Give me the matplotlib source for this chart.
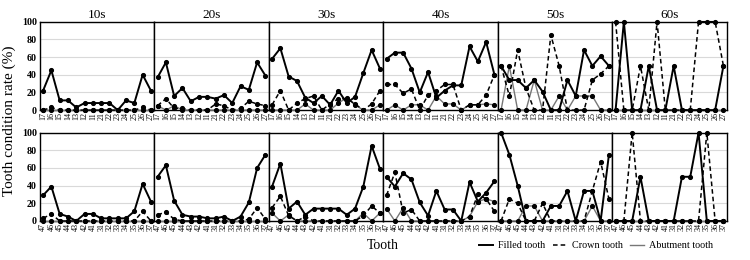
import matplotlib
matplotlib.use('Agg')
import matplotlib.pyplot as plt
from matplotlib.lines import Line2D

plt.rcParams['font.family'] = ['Liberation Serif', 'DejaVu Serif']

ages = ['10s', '20s', '30s', '40s', '50s', '60s']
upper_teeth = ['17', '16', '15', '14', '13', '12', '11',
               '21', '22', '23', '24', '25', '26', '27']
lower_teeth = ['47', '46', '45', '44', '43', '42', '41',
               '31', '32', '33', '34', '35', '36', '37']

# tooth condition rate (%) per age group, upper jaw
filled_upper = [
    [22, 45, 11, 11, 3, 8, 8, 8, 8, 0, 11, 8, 40, 22],
    [37, 54, 16, 25, 10, 15, 15, 13, 17, 8, 27, 23, 54, 39],
    [58, 70, 38, 33, 14, 8, 16, 6, 22, 8, 15, 42, 68, 47],
    [58, 65, 65, 47, 20, 43, 14, 22, 28, 28, 72, 55, 77, 40],
    [50, 34, 34, 25, 34, 21, 0, 0, 34, 16, 68, 50, 61, 50],
    [0, 100, 0, 0, 50, 0, 0, 50, 0, 0, 0, 0, 0, 50],
]
crown_upper = [
    [0, 3, 0, 0, 0, 0, 0, 0, 0, 0, 0, 0, 3, 0],
    [5, 13, 2, 2, 0, 0, 0, 7, 5, 0, 2, 10, 7, 5],
    [6, 22, 0, 8, 13, 16, 0, 7, 13, 13, 7, 0, 7, 22],
    [29, 29, 19, 24, 0, 17, 22, 29, 29, 0, 6, 6, 17, 40],
    [50, 16, 68, 25, 0, 0, 85, 50, 0, 0, 0, 34, 41, 50],
    [100, 0, 0, 50, 0, 100, 0, 0, 0, 0, 100, 100, 100, 50],
]
abutment_upper = [
    [0, 0, 0, 0, 0, 0, 0, 0, 0, 0, 0, 0, 0, 0],
    [5, 0, 5, 0, 0, 0, 0, 0, 0, 0, 0, 0, 0, 0],
    [0, 0, 0, 0, 7, 0, 0, 0, 8, 14, 6, 0, 0, 6],
    [0, 6, 0, 6, 6, 0, 16, 7, 7, 0, 6, 6, 7, 6],
    [0, 50, 0, 0, 34, 0, 0, 16, 0, 16, 16, 16, 0, 0],
    [0, 0, 0, 0, 0, 0, 0, 0, 0, 0, 0, 0, 0, 0],
]

# lower jaw
filled_lower = [
    [29, 39, 8, 5, 0, 8, 8, 3, 3, 3, 3, 11, 42, 22],
    [50, 63, 23, 7, 5, 5, 3, 3, 5, 0, 5, 21, 60, 75],
    [39, 65, 14, 22, 7, 14, 14, 14, 14, 7, 14, 39, 85, 59],
    [50, 39, 54, 47, 21, 6, 34, 13, 13, 0, 44, 22, 32, 45],
    [100, 75, 40, 0, 0, 0, 17, 17, 34, 0, 34, 34, 0, 75],
    [0, 0, 0, 50, 0, 0, 0, 0, 50, 50, 100, 0, 0, 0],
]
crown_lower = [
    [3, 8, 0, 0, 0, 0, 0, 0, 0, 0, 0, 0, 11, 0],
    [7, 10, 2, 0, 0, 0, 0, 0, 0, 0, 0, 2, 15, 2],
    [15, 28, 6, 0, 5, 0, 0, 0, 0, 0, 0, 6, 17, 9],
    [29, 55, 9, 13, 0, 0, 0, 0, 0, 0, 5, 30, 25, 11],
    [0, 25, 20, 0, 0, 20, 0, 0, 0, 0, 0, 34, 67, 25],
    [0, 0, 100, 0, 0, 0, 0, 0, 0, 0, 0, 100, 0, 0],
]
abutment_lower = [
    [0, 0, 0, 0, 0, 0, 0, 0, 0, 0, 0, 0, 0, 0],
    [0, 0, 0, 0, 0, 0, 0, 0, 0, 0, 0, 0, 0, 0],
    [9, 0, 7, 0, 0, 0, 0, 0, 0, 0, 0, 9, 0, 9],
    [14, 0, 15, 0, 0, 0, 0, 0, 0, 0, 5, 22, 25, 22],
    [0, 0, 0, 17, 17, 0, 0, 0, 0, 0, 0, 17, 0, 0],
    [0, 0, 0, 0, 0, 0, 0, 0, 0, 0, 0, 0, 0, 0],
]

fig, axes = plt.subplots(2, 6, figsize=(7.5, 2.6), dpi=100, sharey=True)
fig.subplots_adjust(left=0.053, right=0.969, top=0.9165, bottom=0.15,
                    wspace=0, hspace=0.254)

rows = [
    (upper_teeth, filled_upper, crown_upper, abutment_upper),
    (lower_teeth, filled_lower, crown_lower, abutment_lower),
]

mk = dict(marker='o', markersize=2.7, markerfacecolor='black',
          markeredgecolor='black', clip_on=False)

for r, (teeth, filled, crown, abut) in enumerate(rows):
    x = list(range(len(teeth)))
    for c, age in enumerate(ages):
        ax = axes[r, c]
        ax.plot(x, abut[c], color='#777777', linewidth=1.0, zorder=3, **mk)
        ax.plot(x, crown[c], color='black', linewidth=1.1,
                linestyle=(0, (3, 2)), zorder=4, **mk)
        ax.plot(x, filled[c], color='black', linewidth=1.4, zorder=5, **mk)

        ax.set_xlim(-0.4, len(teeth) - 0.6)
        ax.set_ylim(0, 100)
        ax.set_yticks([0, 20, 40, 60, 80, 100])
        ax.yaxis.grid(True, color='#d9d9d9', linewidth=0.8)
        ax.set_axisbelow(True)
        ax.set_xticks(x)
        ax.set_xticklabels(teeth, rotation=90, fontsize=5.8)
        ax.tick_params(axis='x', length=0, pad=1.5)
        ax.tick_params(axis='y', length=0, pad=2, labelsize=7.2)
        for lbl in ax.get_yticklabels():
            lbl.set_fontweight('bold')
        for sp in ax.spines.values():
            sp.set_linewidth(1.0)
        if r == 0:
            ax.set_title(age, fontsize=9.5, pad=3)

fig.text(0.013, 0.535, 'Tooth condition rate (%)', rotation=90,
         ha='center', va='center', fontsize=11)
fig.text(0.51, 0.055, 'Tooth', ha='center', va='center', fontsize=10)

handles = [
    Line2D([], [], color='black', linewidth=1.4),
    Line2D([], [], color='black', linewidth=1.1, linestyle=(0, (3, 2))),
    Line2D([], [], color='#777777', linewidth=1.0),
]
fig.legend(handles, ['Filled tooth', 'Crown tooth', 'Abutment tooth'],
           loc='center', bbox_to_anchor=(0.795, 0.055), ncol=3,
           frameon=False, fontsize=7.3, handlelength=1.4, handletextpad=0.5,
           columnspacing=0.7)

fig.savefig('out.png', dpi=100)
